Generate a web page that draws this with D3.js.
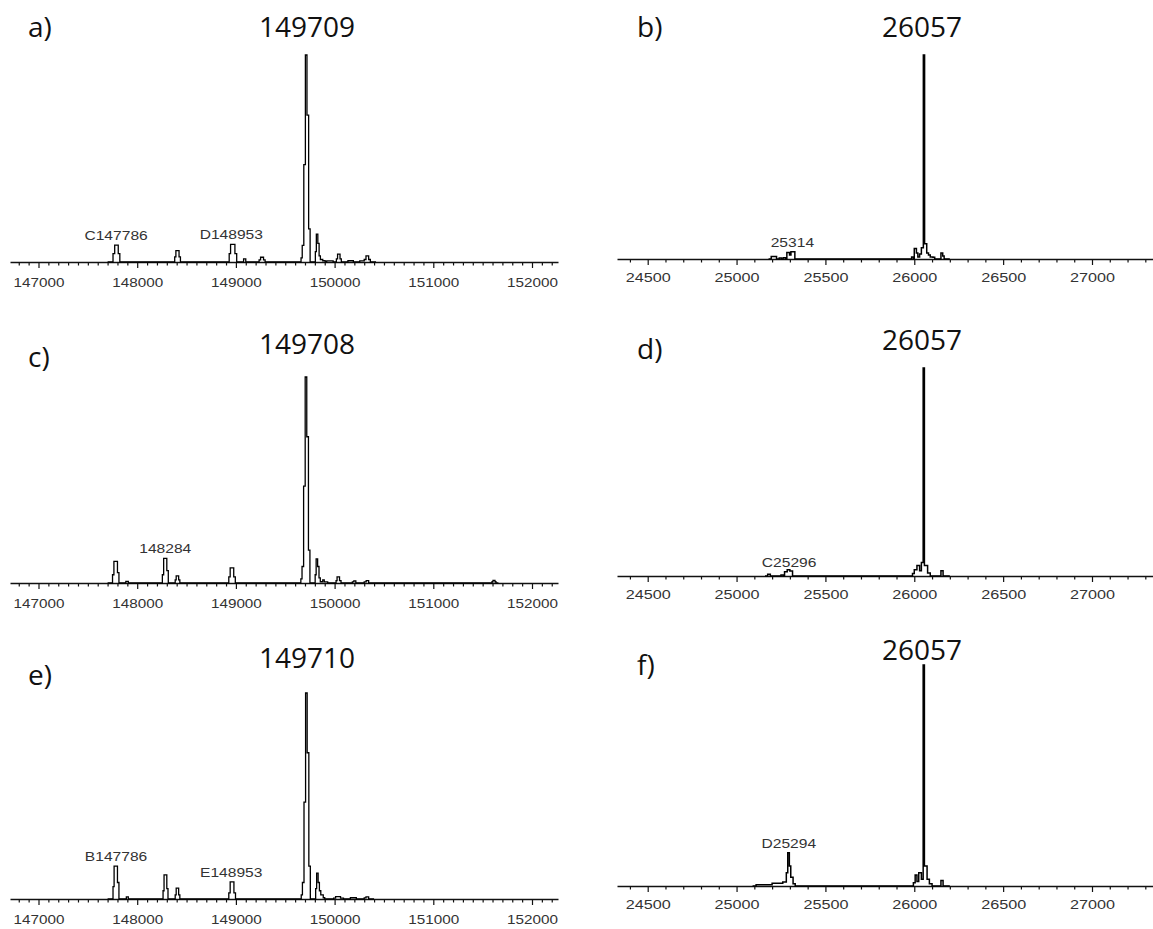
<!DOCTYPE html>
<html>
<head>
<meta charset="utf-8">
<script src="https://cdn.jsdelivr.net/npm/d3@7"></script>
<style>
  body { margin: 0; background: #fff; }
  svg { display: block; }
  .tag, .title { font-family: "Open Sans", sans-serif; font-size: 28px; fill: #111; }
  .tick text, .note { font-family: "Liberation Sans", Arial, sans-serif; fill: #333; }
</style>
</head>
<body>
<svg id="vis" width="1153" height="929"></svg>
<script>
// deconvoluted spectra, [mass, relative intensity %], drawn as step profiles
const specA = [
  [147700, 0], [147755, 4], [147772, 8.2], [147808, 4], [147824, 0],
  [148380, 2.5], [148392, 5.5], [148424, 2.5], [148438, 0],
  [148932, 4], [148946, 8.5], [148990, 4], [149008, 0],
  [149078, 1.5], [149100, 0],
  [149235, 1], [149250, 2.3], [149280, 1], [149296, 0],
  [149660, 2], [149672, 8], [149688, 47], [149704, 100], [149720, 71], [149737, 16], [149752, 0],
  [149805, 5], [149815, 13.5], [149830, 9], [149843, 3], [149856, 1.2], [149880, 0.6], [149905, 0],
  [149920, 0.5], [149985, 0], [150018, 1.5], [150030, 3.8], [150055, 1.5], [150068, 0],
  [150135, 0.6], [150190, 0], [150255, 0.5], [150300, 1.2], [150318, 3], [150345, 1.2], [150362, 0],
  [150420, 0]
];
const specB = [
  [25180, 0], [25195, 1.2], [25225, 0], [25240, 0.5], [25252, 0], [25262, 0.6], [25275, 0],
  [25283, 3.2], [25298, 2], [25306, 3.6], [25328, 0],
  [25975, 0], [25985, 1], [25995, 0], [26000, 5.2], [26012, 3], [26020, 1], [26030, 2.5],
  [26040, 5.5], [26051, 100], [26058, 7.5], [26070, 3], [26080, 2], [26090, 1], [26105, 0.8], [26115, 0],
  [26150, 3], [26160, 1.5], [26168, 0], [26200, 0]
];
const specC = [
  [147700, 0], [147750, 4], [147764, 10.5], [147800, 5], [147815, 0],
  [147885, 0.8], [147910, 0],
  [148255, 4], [148268, 12], [148300, 6], [148315, 0],
  [148385, 1.5], [148395, 3.5], [148420, 1.5], [148432, 0],
  [148928, 3], [148942, 7.3], [148978, 3], [148994, 0],
  [149658, 2], [149670, 8], [149686, 47], [149702, 100], [149718, 71], [149735, 16], [149750, 0],
  [149803, 4], [149813, 11.7], [149828, 8], [149842, 2.5], [149855, 0.6], [149880, 1.5], [149895, 0.5], [149930, 0],
  [150015, 1.2], [150025, 3], [150050, 1.2], [150065, 0],
  [150180, 0.5], [150195, 1], [150215, 0],
  [150300, 0.5], [150320, 1.2], [150345, 0], [150420, 0],
  [151595, 0.6], [151605, 1.3], [151625, 0.6], [151635, 0], [151660, 0]
];
const specD = [
  [25160, 0], [25175, 0.8], [25190, 0], [25250, 0.5], [25262, 0], [25270, 2], [25285, 3], [25300, 2.4], [25315, 0],
  [25975, 0], [25990, 1.2], [26000, 3], [26015, 5], [26030, 2.5], [26040, 6.5], [26050, 100],
  [26057, 5], [26075, 1.5], [26090, 0], [26150, 2.5], [26162, 0], [26200, 0]
];
const specE = [
  [147700, 0], [147755, 6], [147766, 16], [147800, 8], [147815, 0],
  [147890, 1], [147910, 0],
  [148262, 4], [148272, 11.7], [148300, 5], [148312, 0],
  [148385, 2], [148395, 5.3], [148420, 2], [148432, 0],
  [148928, 3], [148942, 8.3], [148980, 3], [148996, 0],
  [149662, 2], [149674, 8], [149690, 47], [149706, 100], [149722, 71], [149739, 16], [149754, 0],
  [149808, 5], [149818, 12.6], [149833, 8], [149846, 4], [149860, 2], [149885, 0.6], [149900, 0],
  [149990, 0.4], [150010, 1.2], [150060, 0.4], [150090, 0],
  [150160, 0.6], [150220, 0], [150300, 0.5], [150318, 1], [150345, 0], [150400, 0]
];
const specF = [
  [25090, 0], [25110, 0.6], [25200, 1.2], [25260, 1.8], [25280, 6], [25288, 15], [25297, 9],
  [25305, 4], [25318, 1], [25330, 0],
  [25980, 0], [25995, 1.5], [26005, 5], [26015, 2], [26025, 6], [26040, 3], [26050, 100],
  [26057, 9], [26072, 3], [26085, 1], [26100, 0], [26150, 2.5], [26162, 0], [26200, 0]
];

// peak labels
const notesA = [{ text: "C147786", mass: 147786, hi: 8.2 }, { text: "D148953", mass: 148953, hi: 8.5 }];
const notesB = [{ text: "25314", mass: 25314, hi: 3.6 }];
const notesC = [{ text: "148284", mass: 148284, hi: 12 }];
const notesD = [{ text: "C25296", mass: 25296, hi: 2 }];
const notesE = [{ text: "B147786", mass: 147786, hi: 16 }, { text: "E148953", mass: 148953, hi: 8.3 }];
const notesF = [{ text: "D25294", mass: 25294, hi: 15 }];

const ticksHeavy = [147000, 148000, 149000, 150000, 151000, 152000];
const ticksLight = [24500, 25000, 25500, 26000, 26500, 27000];

const tags = ["a)", "b)", "c)", "d)", "e)", "f)"];
const titles = ["149709", "26057", "149708", "26057", "149710", "26057"];

// column layout: axis extent, two anchor ticks for the scale
const cols = {
  L: { x0: 10, x1: 558, a: [147000, 38.5], b: [152000, 532], ticks: ticksHeavy, minor: 100,
       titleX: 307, tagX: 28, stretch: 1.13, labelDy: 25 },
  R: { x0: 617, x1: 1153, a: [24500, 647.7], b: [27000, 1092], ticks: ticksLight, minor: 100,
       titleX: 922, tagX: 637, stretch: 1.2, labelDy: 23 }
};

const panels = [
  { col: "L", spec: specA, notes: notesA, base: 262, top: 55, titleY: 37, tagY: 37 },
  { col: "R", spec: specB, notes: notesB, base: 259, top: 55, titleY: 37, tagY: 37 },
  { col: "L", spec: specC, notes: notesC, base: 583, top: 377, titleY: 354, tagY: 367 },
  { col: "R", spec: specD, notes: notesD, base: 576, top: 368, titleY: 350, tagY: 359 },
  { col: "L", spec: specE, notes: notesE, base: 899, top: 693, titleY: 668, tagY: 685, ghost: "149710" },
  { col: "R", spec: specF, notes: notesF, base: 886, top: 665, titleY: 660, tagY: 675 }
];

const svg = d3.select("#vis");

panels.forEach((p, i) => {
  const c = cols[p.col];
  const x = d3.scaleLinear().domain([c.a[0], c.b[0]]).range([c.a[1], c.b[1]]);
  x.domain([x.invert(c.x0), x.invert(c.x1)]).range([c.x0, c.x1]);
  const y = d3.scaleLinear().domain([0, 100]).range([p.base, p.top]);

  const g = svg.append("g");

  // minor ticks
  const lo = Math.ceil(x.domain()[0] / c.minor) * c.minor;
  const minor = d3.range(lo, x.domain()[1], c.minor).filter(v => !c.ticks.includes(v));
  g.append("g")
    .attr("transform", `translate(0,${p.base})`)
    .call(d3.axisBottom(x).tickValues(minor).tickSize(3.5).tickSizeOuter(0).tickFormat(""))
    .call(a => a.select(".domain").remove())
    .selectAll("line").attr("stroke", "#111").attr("stroke-width", 1.2);

  const ax = g.append("g")
    .attr("transform", `translate(0,${p.base})`)
    .call(d3.axisBottom(x).tickValues(c.ticks).tickSize(6).tickSizeOuter(0).tickFormat(d3.format("d")));
  ax.select(".domain").attr("stroke", "#111").attr("stroke-width", 1.6);
  ax.selectAll("line").attr("stroke", "#111").attr("stroke-width", 1.2);
  ax.selectAll("text")
    .attr("y", c.labelDy).attr("dy", null)
    .attr("font-size", 13.5)
    .attr("transform", `scale(${c.stretch},1)`);

  const line = d3.line()
    .x(d => x(d[0]))
    .y(d => y(d[1]))
    .curve(d3.curveStepAfter);

  g.append("path")
    .datum(p.spec)
    .attr("fill", "none")
    .attr("stroke", "#000")
    .attr("stroke-width", p.col === "R" ? 1.5 : 1.3)
    .attr("d", line);

  g.selectAll(".note")
    .data(p.notes)
    .join("text")
    .attr("class", "note")
    .attr("font-size", 12)
    .attr("text-anchor", "middle")
    .attr("transform", d => `translate(${x(d.mass)},${y(d.hi) - 5}) scale(1.3,1)`)
    .text(d => d.text);

  if (p.ghost) {
    // label of the main peak, cut off by the top of the plot
    svg.append("clipPath").attr("id", "cut" + i)
      .append("rect").attr("x", 0).attr("y", y(100) - 8).attr("width", 1153).attr("height", 4);
    g.append("text")
      .attr("class", "note")
      .attr("clip-path", `url(#cut${i})`)
      .attr("font-size", 12)
      .attr("text-anchor", "middle")
      .style("fill", "#999")
      .attr("transform", `translate(${x(149713)},${y(100) - 4}) scale(1.3,1)`)
      .text(p.ghost);
  }

  g.append("text")
    .attr("class", "title")
    .attr("x", c.titleX)
    .attr("y", p.titleY)
    .attr("text-anchor", "middle")
    .text(titles[i]);

  g.append("text")
    .attr("class", "tag")
    .attr("x", c.tagX)
    .attr("y", p.tagY)
    .text(tags[i]);
});
</script>
</body>
</html>
